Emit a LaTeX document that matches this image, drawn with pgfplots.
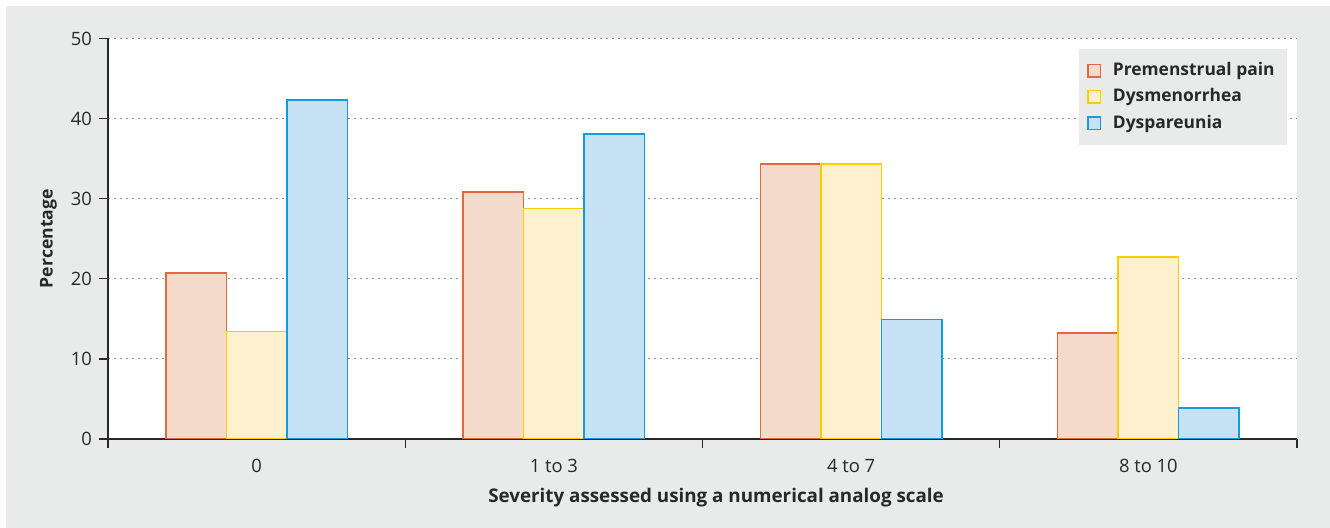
\documentclass[border=0pt]{standalone}
\usepackage{fontspec}
\setmainfont{Open Sans}
\usepackage{pgfplots}
\pgfplotsset{compat=1.18}
\definecolor{bg}{RGB}{233,235,235}
\definecolor{oF}{RGB}{244,218,202}
\definecolor{oE}{RGB}{228,104,62}
\definecolor{yF}{RGB}{255,240,206}
\definecolor{yE}{RGB}{255,204,0}
\definecolor{bF}{RGB}{199,225,244}
\definecolor{bE}{RGB}{20,155,220}
\definecolor{txt}{RGB}{40,40,40}
\pgfplotsset{mylegend/.style={legend image code/.code={\draw[##1, line width=0.7pt] (0pt,-3.1pt) rectangle (6.2pt,3.1pt); \path (10pt,0pt);}}}
\begin{document}
\begin{tikzpicture}[x=1pt,y=1pt]
\fill[white] (0,0) rectangle (665,264);
\fill[bg] (3,0) rectangle (665,261);
\begin{axis}[
  at={(54pt,44.5pt)}, anchor=south west,
  width=594.5pt, height=200.25pt, scale only axis,
  xmin=-0.5, xmax=3.5, ymin=0, ymax=50,
  axis lines*=left,
  axis line style={draw=txt, line width=0.7pt},
  ytick={0,10,...,50},
  xtick={0,1,2,3}, xticklabels={0,1 to 3,4 to 7,8 to 10},
  major x tick style={draw=none},
  minor xtick={-0.5,0.5,1.5,2.5,3.5},
  tick align=outside, major tick length=4.5pt, minor tick length=4.5pt,
  tick style={draw=txt, line width=0.7pt},
  ymajorgrids, grid style={dash pattern=on 1pt off 2pt, draw=gray!80, line width=0.6pt},
  axis background/.style={fill=white},
  /pgf/number format/assume math mode=true,
  ticklabel style={font=\fontsize{9.2}{10}\selectfont, text=txt},
  xticklabel style={yshift=-2pt},
  xlabel={Severity assessed using a numerical analog scale},
  ylabel={Percentage},
  xlabel style={font=\fontsize{9.4}{10}\selectfont\bfseries, text=txt, at={(axis description cs:0.5114,-0.147)}, anchor=center},
  ylabel style={font=\fontsize{8.8}{10}\selectfont\bfseries, text=txt, at={(axis description cs:-0.050,0.5)}, anchor=center, rotate=0},
  legend style={at={(axis description cs:0.9916,0.976)}, anchor=north east,
    fill=bg, draw=none, font=\fontsize{8.7}{11}\selectfont\bfseries, text=txt,
    inner xsep=4pt, inner ysep=5pt, row sep=1pt},
  legend cell align=left,
]
\addplot[ybar, mylegend, bar width=30.25pt, bar shift=-30.25pt, fill=oF, draw=oE, line width=0.8pt]
  coordinates {(0,20.7) (1,30.8) (2,34.3) (3,13.2)};
\addlegendentry{Premenstrual pain}
\addplot[ybar, mylegend, bar width=30.25pt, bar shift=0pt, fill=yF, draw=yE, line width=0.8pt]
  coordinates {(0,13.4) (1,28.8) (2,34.3) (3,22.7)};
\addlegendentry{Dysmenorrhea}
\addplot[ybar, mylegend, bar width=30.25pt, bar shift=30.25pt, fill=bF, draw=bE, line width=0.8pt]
  coordinates {(0,42.3) (1,38.1) (2,14.9) (3,3.9)};
\addlegendentry{Dyspareunia}
\end{axis}
\end{tikzpicture}
\end{document}
